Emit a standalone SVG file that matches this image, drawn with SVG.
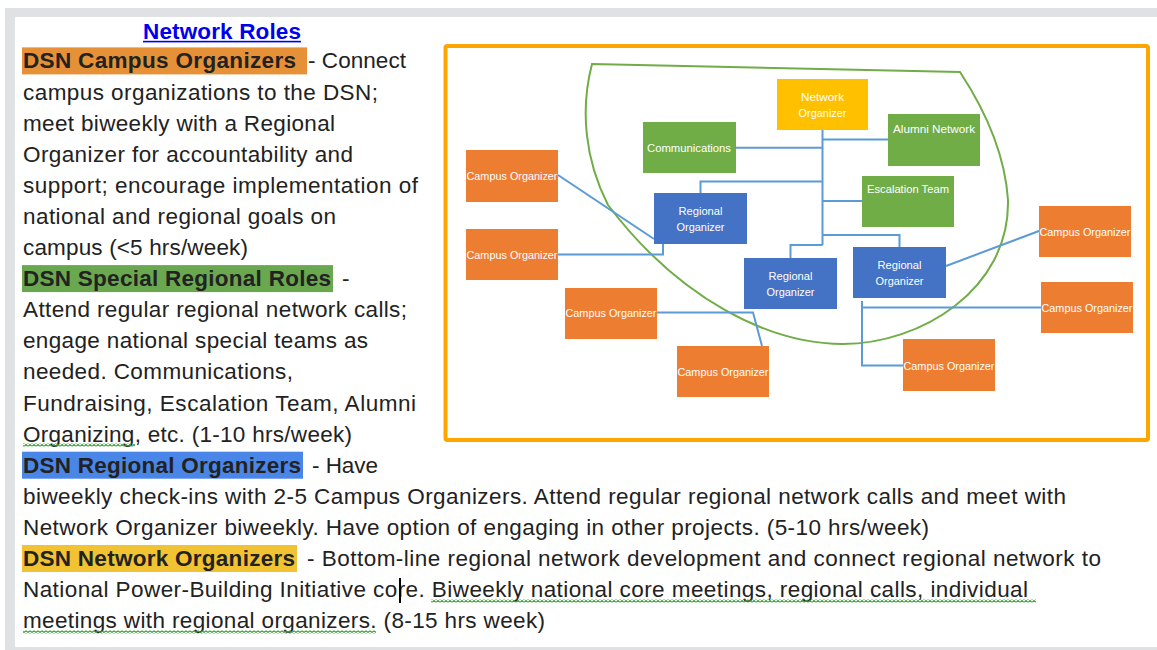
<svg xmlns="http://www.w3.org/2000/svg" width="1157" height="650" viewBox="0 0 1157 650">
<defs>
<style>
.body{font-family:"Liberation Sans",Arial,sans-serif;font-size:22.5px;fill:#222}
.b{font-weight:bold}
.node text{font-family:"Liberation Sans",Arial,sans-serif;font-size:11px;fill:#fff;text-anchor:middle}
.camp rect{fill:#ED7D31}
.grn rect{fill:#70AD47}
.blu rect{fill:#4472C4}
.yel rect{fill:#FFC000}
.conn{fill:none;stroke:#5B9BD5;stroke-width:2}
</style>
<pattern id="squig" x="0" y="0" width="4" height="3" patternUnits="userSpaceOnUse">
<path d="M0,2.5 L2,0.5 L4,2.5" fill="none" stroke="#2E9E2E" stroke-width="1.2"/>
</pattern>
</defs>
<rect x="0" y="0" width="1157" height="650" fill="#fff"/>
<rect x="5" y="8" width="1152" height="9" fill="#E0E1E3"/>
<rect x="5" y="8" width="10" height="642" fill="#E0E1E3"/>
<rect x="5" y="647" width="1152" height="3" fill="#E0E1E3"/>

<g id="document-text">
<rect x="22" y="47.4" width="285" height="27" fill="#E69138"/>
<rect x="22" y="265.1" width="311" height="27" fill="#6AA84F"/>
<rect x="22" y="451.7" width="281" height="27" fill="#4A86E8"/>
<rect x="22" y="545" width="275" height="27" fill="#F1C232"/>
<text x="143" y="39.3" class="body b" style="fill:#0000EE" textLength="158" lengthAdjust="spacing">Network Roles</text>
<rect x="143" y="40.8" width="158" height="1.6" fill="#0000EE"/>
<text x="23" y="68.4" class="body b" textLength="273" lengthAdjust="spacing">DSN Campus Organizers</text>
<text x="308" y="68.4" class="body" textLength="98" lengthAdjust="spacing">- Connect</text>
<text x="23" y="99.5" class="body" textLength="355" lengthAdjust="spacing">campus organizations to the DSN;</text>
<text x="23" y="130.6" class="body" textLength="312" lengthAdjust="spacing">meet biweekly with a Regional</text>
<text x="23" y="161.7" class="body" textLength="330" lengthAdjust="spacing">Organizer for accountability and</text>
<text x="23" y="192.8" class="body" textLength="395" lengthAdjust="spacing">support; encourage implementation of</text>
<text x="23" y="223.9" class="body" textLength="313" lengthAdjust="spacing">national and regional goals on</text>
<text x="23" y="255" class="body" textLength="225" lengthAdjust="spacing">campus (&lt;5 hrs/week)</text>
<text x="23" y="286.1" class="body b" textLength="308" lengthAdjust="spacing">DSN Special Regional Roles</text>
<text x="342" y="286.1" class="body">-</text>
<text x="23" y="317.2" class="body" textLength="384" lengthAdjust="spacing">Attend regular regional network calls;</text>
<text x="23" y="348.3" class="body" textLength="345" lengthAdjust="spacing">engage national special teams as</text>
<text x="23" y="379.4" class="body" textLength="270" lengthAdjust="spacing">needed. Communications,</text>
<text x="23" y="410.5" class="body" textLength="393" lengthAdjust="spacing">Fundraising, Escalation Team, Alumni</text>
<text x="23" y="441.6" class="body" textLength="329" lengthAdjust="spacing">Organizing, etc. (1-10 hrs/week)</text>
<text x="23" y="472.7" class="body b" textLength="278" lengthAdjust="spacing">DSN Regional Organizers</text>
<text x="312" y="472.7" class="body" textLength="66" lengthAdjust="spacing">- Have</text>
<text x="23" y="503.8" class="body" textLength="1043" lengthAdjust="spacing">biweekly check-ins with 2-5 Campus Organizers. Attend regular regional network calls and meet with</text>
<text x="23" y="534.9" class="body" textLength="906" lengthAdjust="spacing">Network Organizer biweekly. Have option of engaging in other projects. (5-10 hrs/week)</text>
<text x="23" y="566" class="body b" textLength="272" lengthAdjust="spacing">DSN Network Organizers</text>
<text x="307" y="566" class="body" textLength="794" lengthAdjust="spacing">- Bottom-line regional network development and connect regional network to</text>
<text x="23" y="597.1" class="body" textLength="1005" lengthAdjust="spacing">National Power-Building Initiative core. Biweekly national core meetings, regional calls, individual</text>
<text x="23" y="628.2" class="body" textLength="522" lengthAdjust="spacing">meetings with regional organizers. (8-15 hrs week)</text>
<rect x="23" y="443.5" width="112" height="3" fill="url(#squig)"/>
<rect x="431" y="599.5" width="605" height="3" fill="url(#squig)"/>
<rect x="23" y="630.5" width="353" height="3" fill="url(#squig)"/>
<rect x="399" y="578" width="2" height="25" fill="#000"/>
</g>

<rect x="445.5" y="46" width="702.5" height="394" rx="2" fill="none" stroke="#FFA500" stroke-width="4"/>
<path d="M592,64 L960,72 C985,110 1005,155 1008,200 C1010,290 920,344 843,344 C770,344 680,300 608,205 C585,160 580,110 592,64 Z" fill="none" stroke="#70AD47" stroke-width="2"/>

<g id="connectors">
<path class="conn" d="M822.5,130 V245"/>
<path class="conn" d="M822.5,139.5 H888"/>
<path class="conn" d="M736,147.7 H822.5"/>
<path class="conn" d="M822.5,181.5 H700.5 V193"/>
<path class="conn" d="M822.5,201 H862"/>
<path class="conn" d="M822.5,235 H899.5 V247"/>
<path class="conn" d="M822.5,245 H790.5 V258"/>
<path class="conn" d="M558,175 L654,239"/>
<path class="conn" d="M558,254.5 H663 V244"/>
<path class="conn" d="M657,312.5 H753 L762,346"/>
<path class="conn" d="M946,266 L1039,231"/>
<path class="conn" d="M862,301 V365.5 H903"/>
<path class="conn" d="M862,307.5 H1041"/>
</g>

<g id="network-organizer" class="node yel"><rect x="777" y="79" width="91" height="51"/><text x="822.5" y="100.5" textLength="43" lengthAdjust="spacingAndGlyphs">Network</text><text x="822.5" y="116.5" textLength="48" lengthAdjust="spacingAndGlyphs">Organizer</text></g>
<g id="communications" class="node grn"><rect x="643" y="122" width="93" height="51"/><text x="689" y="151.7" textLength="84" lengthAdjust="spacingAndGlyphs">Communications</text></g>
<g id="alumni-network" class="node grn"><rect x="888" y="114" width="92" height="52"/><text x="934" y="133.3" textLength="82" lengthAdjust="spacingAndGlyphs">Alumni Network</text></g>
<g id="escalation-team" class="node grn"><rect x="862" y="176" width="92" height="51"/><text x="908" y="193.3" textLength="82" lengthAdjust="spacingAndGlyphs">Escalation Team</text></g>
<g id="regional-1" class="node blu"><rect x="654" y="193" width="93" height="51"/><text x="700.5" y="214.5" textLength="44" lengthAdjust="spacingAndGlyphs">Regional</text><text x="700.5" y="230.5" textLength="48" lengthAdjust="spacingAndGlyphs">Organizer</text></g>
<g id="regional-2" class="node blu"><rect x="744" y="258" width="93" height="51"/><text x="790.5" y="279.5" textLength="44" lengthAdjust="spacingAndGlyphs">Regional</text><text x="790.5" y="295.5" textLength="48" lengthAdjust="spacingAndGlyphs">Organizer</text></g>
<g id="regional-3" class="node blu"><rect x="853" y="247" width="93" height="51"/><text x="899.5" y="268.5" textLength="44" lengthAdjust="spacingAndGlyphs">Regional</text><text x="899.5" y="284.5" textLength="48" lengthAdjust="spacingAndGlyphs">Organizer</text></g>
<g id="campus-1" class="node camp"><rect x="466" y="150" width="92" height="52"/><text x="512" y="180" textLength="91" lengthAdjust="spacingAndGlyphs">Campus Organizer</text></g>
<g id="campus-2" class="node camp"><rect x="466" y="229" width="92" height="51"/><text x="512" y="258.5" textLength="91" lengthAdjust="spacingAndGlyphs">Campus Organizer</text></g>
<g id="campus-3" class="node camp"><rect x="565" y="288" width="92" height="51"/><text x="611" y="316.5" textLength="91" lengthAdjust="spacingAndGlyphs">Campus Organizer</text></g>
<g id="campus-4" class="node camp"><rect x="677" y="346" width="92" height="51"/><text x="723" y="375.5" textLength="91" lengthAdjust="spacingAndGlyphs">Campus Organizer</text></g>
<g id="campus-5" class="node camp"><rect x="1039" y="206" width="92" height="51"/><text x="1085" y="235.5" textLength="91" lengthAdjust="spacingAndGlyphs">Campus Organizer</text></g>
<g id="campus-6" class="node camp"><rect x="1041" y="282" width="92" height="51"/><text x="1087" y="311.5" textLength="91" lengthAdjust="spacingAndGlyphs">Campus Organizer</text></g>
<g id="campus-7" class="node camp"><rect x="903" y="339" width="92" height="52"/><text x="949" y="369.5" textLength="91" lengthAdjust="spacingAndGlyphs">Campus Organizer</text></g>
</svg>
